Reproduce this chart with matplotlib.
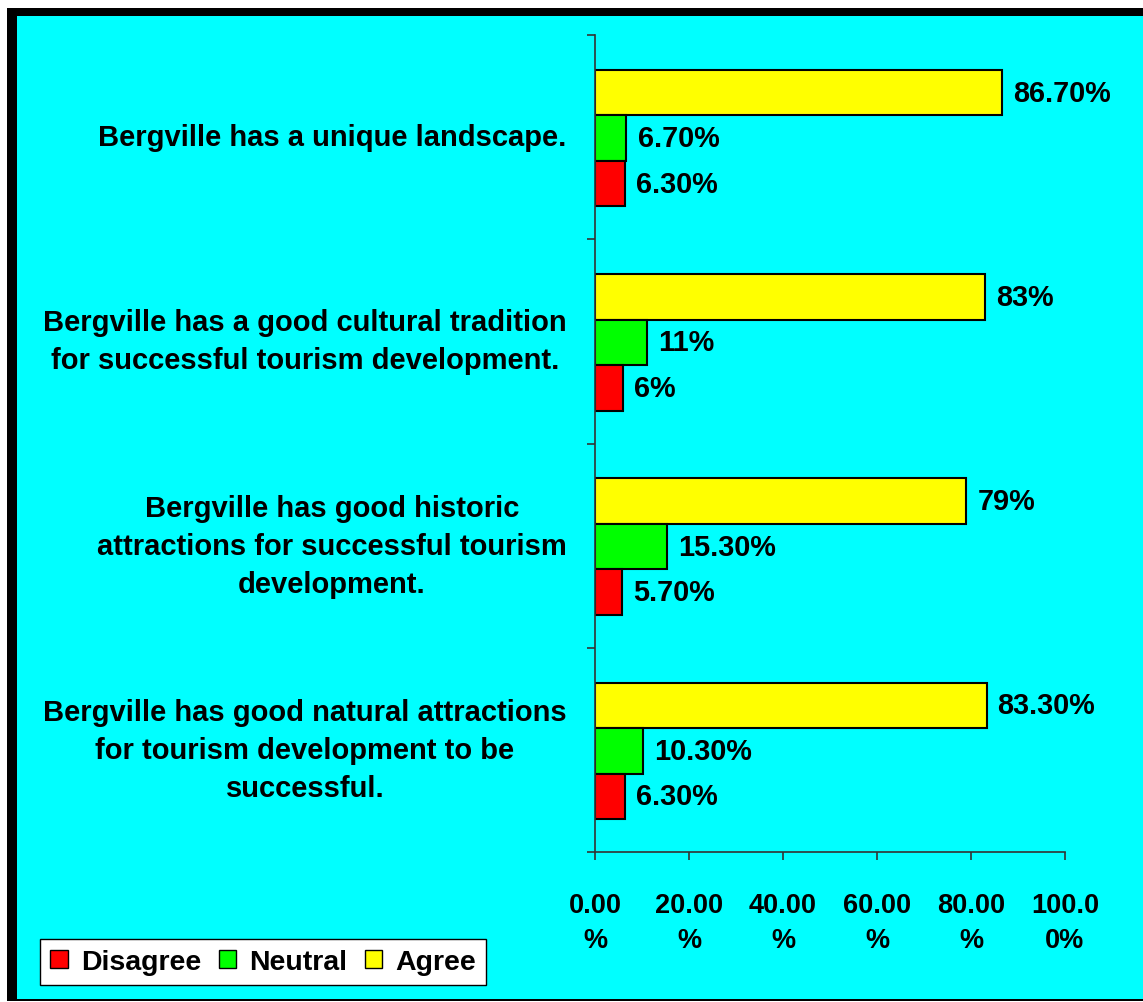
import matplotlib
matplotlib.use("Agg")
import matplotlib.pyplot as plt
from matplotlib.patches import Rectangle, Patch

plt.rcParams['font.family'] = ['Liberation Sans', 'DejaVu Sans']
plt.rcParams['font.weight'] = 'bold'

# data, top to bottom
statements = [
    "Bergville has a unique landscape.",
    "Bergville has a good cultural tradition\nfor successful tourism development.",
    "Bergville has good historic\nattractions for successful tourism\ndevelopment.",
    "Bergville has good natural attractions\nfor tourism development to be\nsuccessful.",
]
agree = [86.7, 83, 79, 83.3]
neutral = [6.7, 11, 15.3, 10.3]
disagree = [6.3, 6, 5.7, 6.3]
agree_lbl = ["86.70%", "83%", "79%", "83.30%"]
neutral_lbl = ["6.70%", "11%", "15.30%", "10.30%"]
disagree_lbl = ["6.30%", "6%", "5.70%", "6.30%"]
xtick_lbl = ["0.00\n%", "20.00\n%", "40.00\n%", "60.00\n%", "80.00\n%", "100.0\n0%"]

W, H = 1143, 1003
fig = plt.figure(figsize=(W / 100, H / 100), dpi=100)
fig.patch.set_facecolor('white')

# frame: black border with cyan inside
fig.patches.append(Rectangle((7 / W, 1 - 1002 / H), 1, (1002 - 9) / H,
                             transform=fig.transFigure, facecolor='black',
                             edgecolor='none', zorder=-2))
fig.patches.append(Rectangle((17 / W, 1 - 1000 / H), 1, (1000 - 17) / H,
                             transform=fig.transFigure, facecolor='#00FFFF',
                             edgecolor='none', zorder=-1))

ax = fig.add_axes([595 / W, 1 - 853 / H, (1065 - 595) / W, (853 - 36) / H])
ax.set_facecolor('none')

n = len(statements)
bh = 0.223
centers = [i + 0.505 for i in range(n)]
series = [
    (agree, agree_lbl, '#FFFF00', -bh),
    (neutral, neutral_lbl, '#00FF00', 0),
    (disagree, disagree_lbl, '#FF0000', bh),
]
for vals, lbls, col, off in series:
    ys = [c + off for c in centers]
    bars = ax.barh(ys, vals, height=bh, color=col, edgecolor='black', linewidth=1.5)
    ax.bar_label(bars, labels=lbls, padding=8, fontsize=20.8, fontweight='bold')

ax.set_xlim(0, 100)
ax.set_ylim(n, 0)
ax.set_xticks(range(0, 101, 20))
ax.set_xticklabels(xtick_lbl, fontsize=19.5, fontweight='bold', linespacing=1.45)
ax.set_yticks(range(n + 1))
ax.set_yticklabels([])
ax.tick_params(axis='x', direction='out', length=6, width=1.2, color='#333333', pad=23)
ax.tick_params(axis='y', direction='out', length=6, width=1.2, color='#333333')
for s in ['top', 'right']:
    ax.spines[s].set_visible(False)
for s in ['left', 'bottom']:
    ax.spines[s].set_color('#333333')
    ax.spines[s].set_linewidth(1.2)

for i, txt in enumerate(statements):
    ax.text(-0.06, i + 0.5, txt, transform=ax.get_yaxis_transform(),
            ha='right', va='center', multialignment='center',
            fontsize=21, fontweight='bold', linespacing=1.45)

handles = [Patch(facecolor='#FF0000', edgecolor='black', label='Disagree'),
           Patch(facecolor='#00FF00', edgecolor='black', label='Neutral'),
           Patch(facecolor='#FFFF00', edgecolor='black', label='Agree')]
leg = fig.legend(handles=handles, loc='lower left', ncol=3,
                 bbox_to_anchor=(40 / W, 1 - 986 / H), frameon=True, fancybox=False,
                 prop={'size': 20.5, 'weight': 'bold'}, handlelength=0.62, handleheight=0.62,
                 handletextpad=0.45, columnspacing=0.62, borderpad=0.36,
                 borderaxespad=0)
leg.get_frame().set_edgecolor('black')
leg.get_frame().set_linewidth(1)
leg.get_frame().set_facecolor('white')
leg.get_frame().set_alpha(1)

fig.savefig('out.png', dpi=100)
